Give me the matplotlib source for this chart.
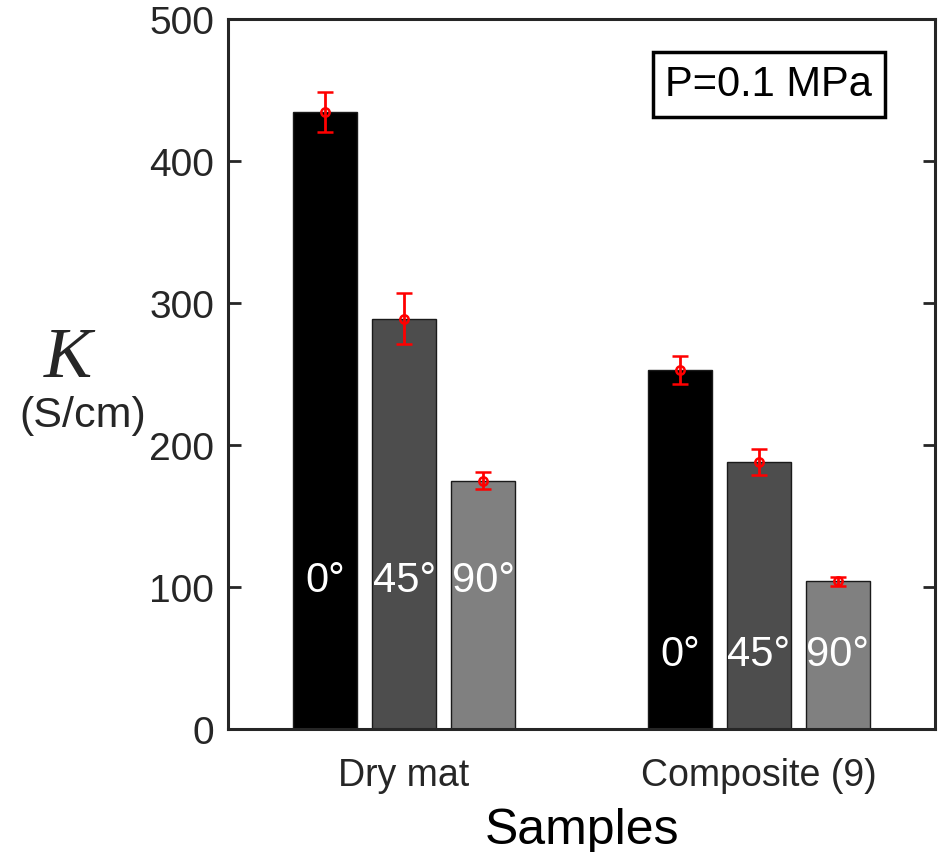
import numpy as np
import matplotlib
matplotlib.use('Agg')
import matplotlib.pyplot as plt

plt.rcParams['font.family'] = ['Liberation Sans', 'DejaVu Sans']

# data
samples = ['Dry mat', 'Composite (9)']
angles = ['0°', '45°', '90°']
K_vals = [[435, 289, 175],
          [253, 188, 104]]
K_err = [[14, 18, 6],
         [10, 9, 3]]
label_y = [105, 53]
colors = ['#000000', '#4d4d4d', '#808080']
y_ticks = [0, 100, 200, 300, 400, 500]

fig = plt.figure(figsize=(9.4, 8.53), dpi=100)
ax = fig.add_axes([0.2426, 0.1442, 0.7521, 0.8318])

x = np.arange(1, len(samples) + 1)
offs = [-0.2225, 0.0, 0.2225]
w = 0.18
for j in range(len(angles)):
    vals = [K_vals[i][j] for i in range(len(samples))]
    errs = [K_err[i][j] for i in range(len(samples))]
    ax.bar(x + offs[j], vals, width=w, color=colors[j], edgecolor='#1a1a1a',
           linewidth=1.0, zorder=2)
    ax.errorbar(x + offs[j], vals, yerr=errs, fmt='o', color='red', ms=6,
                mfc='none', mec='red', mew=1.8, elinewidth=2, capsize=6,
                capthick=2, zorder=3)
    for i in range(len(samples)):
        ax.text(x[i] + offs[j], label_y[i], angles[j], color='white',
                fontsize=30, ha='center', va='center', zorder=4)

ax.set_xlim(0.504, 2.496)
ax.set_ylim(0, 500)
ax.set_yticks(y_ticks)
ax.set_xticks(x)
ax.set_xticklabels(samples)
ax.tick_params(axis='y', direction='in', length=9, width=2, right=True,
               labelsize=28, pad=10, color='#262626', labelcolor='#262626')
ax.tick_params(axis='x', length=0, labelsize=27, pad=20, labelcolor='#262626')
for s in ax.spines.values():
    s.set_linewidth(2.2)
    s.set_color('#262626')

ax.set_xlabel('Samples', fontsize=36, labelpad=10)
fig.text(0.072, 0.578, 'K', fontsize=52, style='italic',
         family='Liberation Serif', ha='center', va='center', color='#262626')
fig.text(0.088, 0.512, '(S/cm)', fontsize=31, ha='center', va='center',
         color='#262626')

ax.text(0.765, 0.909, 'P=0.1 MPa', transform=ax.transAxes, fontsize=30,
        ha='center', va='center',
        bbox=dict(boxstyle='square,pad=0.3', fc='white', ec='black', lw=2.5))

fig.savefig('out.png', dpi=100)
